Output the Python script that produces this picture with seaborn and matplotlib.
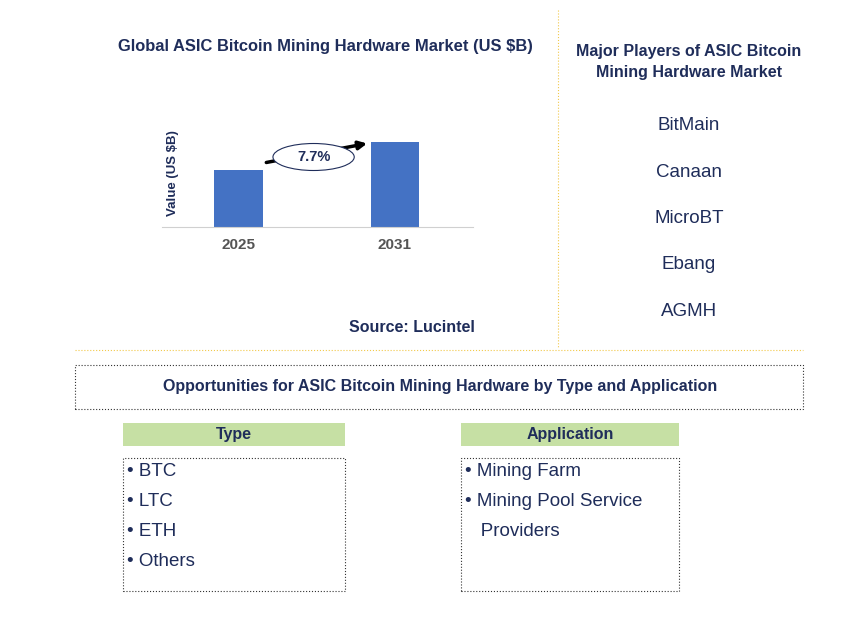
import matplotlib
matplotlib.use('Agg')
import matplotlib.pyplot as plt
from matplotlib.patches import Rectangle, Ellipse
import seaborn as sns
import pandas as pd

years = ['2025', '2031']
values = [5.7, 8.5]
cagr = '7.7%'
players = ['BitMain', 'Canaan', 'MicroBT', 'Ebang', 'AGMH']
types = ['BTC', 'LTC', 'ETH', 'Others']
applications = ['Mining Farm', 'Mining Pool Service', 'Providers']

plt.rcParams['font.family'] = 'Liberation Sans'
W, H = 868, 632
navy = '#1F2D5A'
fig = plt.figure(figsize=(W / 100, H / 100), dpi=100)

def fx(x): return x / W
def fy(y): return 1 - y / H

# bar chart
ax = fig.add_axes([fx(162), fy(227), fx(473) - fx(162), (227 - 120) / H])
df = pd.DataFrame({'year': years, 'value': values})
sns.barplot(data=df, x='year', y='value', color='#4472C4', width=0.31, saturation=1, ax=ax)
ax.set_xlim(-0.49, 1.5)
ax.set_ylim(0, 10.7)
for s in ['top', 'right', 'left']:
    ax.spines[s].set_visible(False)
ax.spines['bottom'].set_color('#D0D0D0')
ax.set_yticks([])
ax.tick_params(axis='x', length=0, pad=8)
for lab in ax.get_xticklabels():
    lab.set_fontweight('bold'); lab.set_color('#555555'); lab.set_fontsize(11)
ax.set_xlabel('')
ax.set_ylabel('Value (US $B)', fontsize=9.5, fontweight='bold', color=navy, labelpad=-12)
ax.annotate('', xy=(1 - 0.16, values[1] - 0.1), xytext=(0.16, values[0] + 0.7),
            arrowprops=dict(arrowstyle='-|>', color='black', lw=2.5, mutation_scale=12))
ax.add_patch(Ellipse((0.48, 7.0), 0.52, 2.7, facecolor='white', edgecolor=navy, lw=0.8, zorder=5))
ax.text(0.48, 7.0, cagr, ha='center', va='center', fontsize=10.5, fontweight='bold', color=navy, zorder=6)

fig.text(fx(325), fy(46), 'Global ASIC Bitcoin Mining Hardware Market (US $B)', ha='center', va='center',
         fontsize=11.9, fontweight='bold', color=navy)
fig.text(fx(412), fy(328), 'Source: Lucintel', ha='center', va='center', fontsize=11.5, fontweight='bold', color=navy)

# players
fig.text(fx(689), fy(62), 'Major Players of ASIC Bitcoin\nMining Hardware Market', ha='center', va='center',
         fontsize=11.5, fontweight='bold', color=navy, linespacing=1.45)
for i, p in enumerate(players):
    fig.text(fx(689), fy(126 + i * 46.3), p, ha='center', va='center', fontsize=13.5, color=navy)

# separators
fig.add_artist(plt.Line2D([fx(558), fx(558)], [fy(10), fy(348)], color='#F2C94C', lw=0.8, ls=':'))
fig.add_artist(plt.Line2D([fx(75), fx(803)], [fy(350), fy(350)], color='#F2C94C', lw=0.8, ls=':'))

def box(x0, y0, x1, y1, **kw):
    fig.add_artist(Rectangle((fx(x0), fy(y1)), fx(x1) - fx(x0), fy(y0) - fy(y1),
                             transform=fig.transFigure, **kw))

box(75, 365, 803, 409, facecolor='none', edgecolor='#333333', lw=0.8, ls=':')
fig.text(fx(440), fy(387), 'Opportunities for ASIC Bitcoin Mining Hardware by Type and Application',
         ha='center', va='center', fontsize=11.5, fontweight='bold', color=navy)

for x0, x1, title, items in [(123, 345, 'Type', types), (461, 679, 'Application', applications)]:
    box(x0, 423, x1, 446, facecolor='#C6E0A4', edgecolor='none')
    fig.text(fx((x0 + x1) / 2), fy(434.5), title, ha='center', va='center', fontsize=11.5,
             fontweight='bold', color=navy)
    box(x0, 458, x1, 591, facecolor='none', edgecolor='#333333', lw=0.8, ls=':')
    for i, it in enumerate(items):
        prefix = '• ' if not (title == 'Application' and i == 2) else '   '
        fig.text(fx(x0 + 4), fy(472 + i * 30), prefix + it, ha='left', va='center', fontsize=13.5, color=navy)

fig.savefig('out.png', dpi=100, facecolor='white')
